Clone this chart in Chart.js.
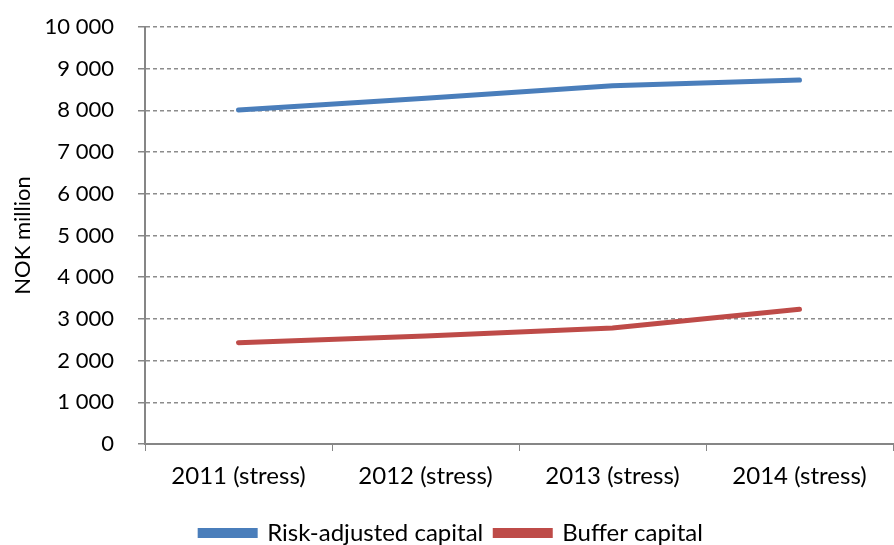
<!DOCTYPE html>
<html>
<head>
<meta charset="utf-8">
<script src="https://cdn.jsdelivr.net/npm/chart.js@4.4.0/dist/chart.umd.min.js"></script>
<style>
  html, body { margin: 0; padding: 0; background: #fff; }
  #wrap { width: 894px; height: 545px; }
</style>
</head>
<body>
<div id="wrap"><canvas id="chart" width="894" height="545"></canvas></div>
<script>
const categories = ['2011 (stress)', '2012 (stress)', '2013 (stress)', '2014 (stress)'];
const riskAdjusted = [8010, 8290, 8590, 8730];
const bufferCapital = [2430, 2590, 2780, 3230];
const yTicks = [0, 1000, 2000, 3000, 4000, 5000, 6000, 7000, 8000, 9000, 10000];

const fontFamily = "Lato, 'Open Sans', sans-serif";
const axisColor = '#868686';

const fmt = (v) => String(v).replace(/\B(?=(\d{3})+(?!\d))/g, ' ');

// push the legend a bit lower, closer to the bottom edge
const legendShift = {
  id: 'legendShift',
  afterLayout: (chart) => {
    if (chart.legend) {
      chart.legend.top += 10;
      chart.legend.bottom += 10;
    }
  }
};

new Chart(document.getElementById('chart').getContext('2d'), {
  type: 'line',
  data: {
    labels: categories,
    datasets: [
      {
        label: 'Risk-adjusted capital',
        data: riskAdjusted,
        borderColor: '#4A7EBB',
        backgroundColor: '#4A7EBB',
        borderWidth: 5,
        borderCapStyle: 'round',
        pointRadius: 0,
        tension: 0
      },
      {
        label: 'Buffer capital',
        data: bufferCapital,
        borderColor: '#BE4B48',
        backgroundColor: '#BE4B48',
        borderWidth: 5,
        borderCapStyle: 'round',
        pointRadius: 0,
        tension: 0
      }
    ]
  },
  options: {
    responsive: false,
    animation: false,
    layout: { padding: { top: 27, right: 1, left: 10, bottom: 0 } },
    plugins: {
      legend: {
        position: 'bottom',
        labels: {
          color: '#000',
          font: { family: fontFamily, size: 24 },
          boxWidth: 55,
          boxHeight: 5,
          padding: 12
        }
      },
      tooltip: { enabled: false }
    },
    scales: {
      x: {
        offset: true,
        grid: {
          offset: true,
          drawOnChartArea: false,
          drawTicks: true,
          tickLength: 7,
          color: axisColor
        },
        border: { color: axisColor, width: 2 },
        ticks: {
          color: '#000',
          font: { family: fontFamily, size: 24 },
          padding: 11,
          maxRotation: 0
        },
        afterFit: (s) => { s.height = 55; }
      },
      y: {
        min: 0,
        max: 10000,
        afterBuildTicks: (s) => { s.ticks = yTicks.map(v => ({ value: v })); },
        title: {
          display: true,
          text: 'NOK million',
          color: '#000',
          font: { family: fontFamily, size: 22 },
          padding: { top: 0, bottom: 4 }
        },
        grid: {
          color: (ctx) => ctx.tick && ctx.tick.value === 0 ? 'rgba(0,0,0,0)' : '#8c8c8c',
          tickColor: axisColor,
          tickLength: 7,
          tickBorderDash: [],
          lineWidth: 1.5
        },
        border: { color: axisColor, width: 2, dash: [4, 3] },
        ticks: {
          color: '#000',
          font: { family: fontFamily, size: 22 },
          padding: 24,
          callback: (v) => fmt(v)
        },
        afterFit: (s) => {
          s.width = 135;
          s.paddingTop = 14;
          s.paddingBottom = 14;
        }
      }
    }
  },
  plugins: [legendShift]
});
</script>
</body>
</html>
